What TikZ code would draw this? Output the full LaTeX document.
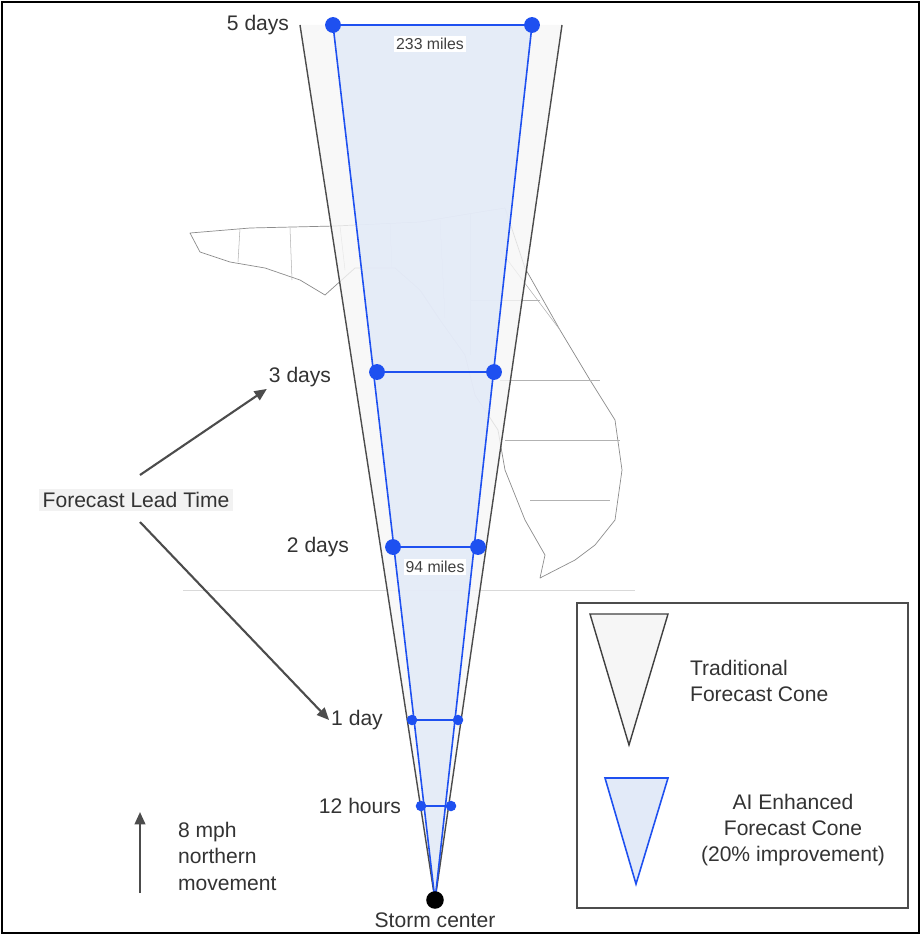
\documentclass[tikz,border=0pt]{standalone}
\usepackage{fontspec}
\setmainfont{Liberation Sans}
\usetikzlibrary{arrows.meta, positioning}
\definecolor{conefill}{RGB}{226,234,248}
\definecolor{coneblue}{RGB}{30,80,240}
\definecolor{tradfill}{RGB}{246,246,246}
\begin{document}
\begin{tikzpicture}[x=0.02cm, y=-0.02cm,
  lbl/.style={font=\fontsize{12}{15}\selectfont, text=black!80, inner sep=1pt},
  small/.style={font=\fontsize{9}{10}\selectfont, text=black!75, fill=white, inner sep=1pt},
  bluedot/.style={circle, fill=coneblue, inner sep=0pt, minimum size=#1},
  blueline/.style={coneblue, line width=1.3pt},
  arrow/.style={-{Triangle[length=7pt,width=6pt]}, black!70, line width=1.2pt}
]
\useasboundingbox (0,0) rectangle (922,936);
\draw[line width=1.2pt] (2,2) rectangle (919,933);

% Map of the peninsula (rough outline)
\draw[black!45, line width=0.4pt, line join=round]
  (190,233) -- (250,228) -- (335,226) -- (420,222) -- (480,212) -- (505,208)
  -- (525,268) -- (560,330) -- (590,380) -- (615,420) -- (622,470) -- (615,520)
  -- (595,545) -- (575,560) -- (540,578) -- (545,555) -- (525,520) -- (505,470)
  -- (498,430) -- (475,395) -- (465,355) -- (440,320) -- (420,290) -- (395,268)
  -- (355,268) -- (325,295) -- (300,280) -- (265,268) -- (230,262) -- (200,252) -- cycle;
\foreach \xa/\ya/\xb/\yb in {240/228/238/262, 290/228/292/280, 340/226/345/270,
  390/224/392/268, 440/220/445/318, 470/214/470/355, 500/250/560/330,
  470/300/540/300, 500/380/600/380, 505/440/620/440, 530/500/610/500}
  \draw[black!30, line width=0.3pt] (\xa,\ya) -- (\xb,\yb);
\draw[black!15] (183,590) -- (635,590);

% Traditional cone
\coordinate (apex) at (435,900);
\coordinate (tl) at (300,25);
\coordinate (tr) at (562,25);
\fill[tradfill, opacity=0.8] (tl) -- (tr) -- (apex) -- cycle;
\draw[black!70, line width=0.8pt] (tl) -- (apex) -- (tr);

% AI cone
\coordinate (al) at (333,25);
\coordinate (ar) at (532,25);
\fill[conefill, opacity=0.85] (al) -- (ar) -- (apex) -- cycle;
\draw[blueline] (al) -- (ar);
\draw[coneblue, line width=0.9pt] (al) -- (apex) -- (ar);
\foreach \xl/\xr/\y/\w/\s in {377/494/372/1.3pt/9pt, 393/478/547/1.3pt/9pt,
  412/458/720/0.8pt/6pt, 421/451/806/0.8pt/6pt} {
  \draw[coneblue, line width=\w] (\xl,\y) -- (\xr,\y);
  \node[bluedot=\s] at (\xl,\y) {};
  \node[bluedot=\s] at (\xr,\y) {};
}
\node[bluedot=9pt] at (al) {};
\node[bluedot=9pt] at (ar) {};
\node[circle, fill=black, inner sep=0pt, minimum size=10pt] (storm) at (apex) {};

% Labels
\node[lbl] (d5) at (258,25) {5 days};
\node[small] (m233) at (430,44) {233 miles};
\node[lbl] (d3) at (300,377) {3 days};
\node[lbl] (d2) at (318,547) {2 days};
\node[small] (m94) at (435,567) {94 miles};
\node[lbl] (d1) at (357,720) {1 day};
\node[lbl] (h12) at (360,806) {12 hours};
\node[lbl, below=1pt of storm] (sc) {Storm center};

\node[lbl, fill=black!5, inner sep=2pt] (lead) at (136,500) {Forecast Lead Time};
\draw[arrow] (140,475) -- (d3.south west);
\draw[arrow] (140,522) -- (d1.west);

\coordinate (mv0) at (140,893);
\coordinate (mv1) at (140,812);
\draw[arrow] (mv0) -- (mv1);
\node[lbl, align=left, anchor=north west] (move) at (176,820) {8 mph\\northern\\movement};

% Legend
\draw[black!70, line width=1.2pt] (577,603) rectangle (908,908);
\draw[black!75, fill=tradfill, line width=0.8pt] (590,614) -- (668,614) -- (629,745) -- cycle;
\draw[coneblue, fill=conefill, line width=0.9pt] (605,778) -- (668,778) -- (636,884) -- cycle;
\node[lbl, align=left, anchor=west] (legtrad) at (688,681) {Traditional\\Forecast Cone};
\node[lbl, align=center] (legai) at (793,830) {AI Enhanced\\Forecast Cone\\(20\% improvement)};
\end{tikzpicture}
\end{document}
